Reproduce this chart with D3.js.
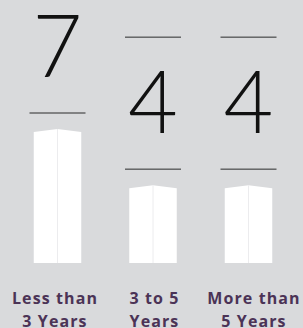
<!DOCTYPE html>
<html><head><meta charset="utf-8">
<script src="https://cdn.jsdelivr.net/npm/d3@7"></script>
<style>
html,body{margin:0;padding:0;background:#d9dadc;}
svg{display:block;}
</style></head>
<body>
<script>
const categories = ["Less than|3 Years", "3 to 5|Years", "More than|5 Years"];
const values = [7, 4, 4];

const W = 303, H = 328;
const svg = d3.select("body").append("svg").attr("width", W).attr("height", H);
svg.append("rect").attr("width", W).attr("height", H).attr("fill", "#d9dadc");

const x = d3.scaleBand().domain(categories).range([19.3, 286.7]).paddingInner(0.2).paddingOuter(0);
const y = d3.scaleLinear().domain([0, 7]).range([263, 132]);

const barW = 47.5, lineW = 56, peak = 3;

const g = svg.selectAll("g.col").data(categories.map((c, i) => ({c, v: values[i], i})))
  .enter().append("g").attr("class", "col");

const cx = d => x(d.c) + x.bandwidth() / 2;

// bars with slight peaked top
g.append("path")
  .attr("fill", "#ffffff")
  .attr("d", d => {
    const l = cx(d) - barW / 2, r = cx(d) + barW / 2, t = y(d.v), b = y(0);
    return `M${l},${b}L${l},${t}L${cx(d)},${t - peak}L${r},${t}L${r},${b}Z`;
  });
g.append("line")
  .attr("x1", cx).attr("x2", cx)
  .attr("y1", d => y(d.v) - peak).attr("y2", y(0))
  .attr("stroke", "#ececee").attr("stroke-width", 1);

// lower line
g.append("line")
  .attr("x1", d => cx(d) - lineW / 2).attr("x2", d => cx(d) + lineW / 2)
  .attr("y1", d => y(d.v) - 19).attr("y2", d => y(d.v) - 19)
  .attr("stroke", "#2b2b2b").attr("stroke-width", 1);
// upper line
g.append("line")
  .attr("x1", d => cx(d) - lineW / 2).attr("x2", d => cx(d) + lineW / 2)
  .attr("y1", d => y(d.v) - 151).attr("y2", d => y(d.v) - 151)
  .attr("stroke", "#2b2b2b").attr("stroke-width", 1);
// numbers
g.append("text")
  .attr("x", cx).attr("y", d => y(d.v) - 55)
  .attr("text-anchor", "middle")
  .attr("font-family", "Lato, 'DejaVu Sans', sans-serif")
  .attr("font-weight", 300)
  .attr("font-size", 86)
  .attr("fill", "#111")
  .text(d => d.v);

// labels
const lx = d3.scalePoint().domain(categories).range([55, 254]);
const lab = svg.selectAll("text.lab").data(categories).enter().append("text")
  .attr("class", "lab")
  .attr("text-anchor", "middle")
  .attr("font-family", "'Open Sans', Lato, sans-serif")
  .attr("font-weight", 700)
  .attr("font-size", 16)
  .attr("letter-spacing", 1.1)
  .attr("fill", "#4b3356");
lab.each(function(c) {
  const parts = c.split("|");
  d3.select(this).selectAll("tspan").data(parts).enter().append("tspan")
    .attr("x", lx(c)).attr("y", (p, j) => 304 + j * 23)
    .text(p => p);
});
</script>
</body></html>
